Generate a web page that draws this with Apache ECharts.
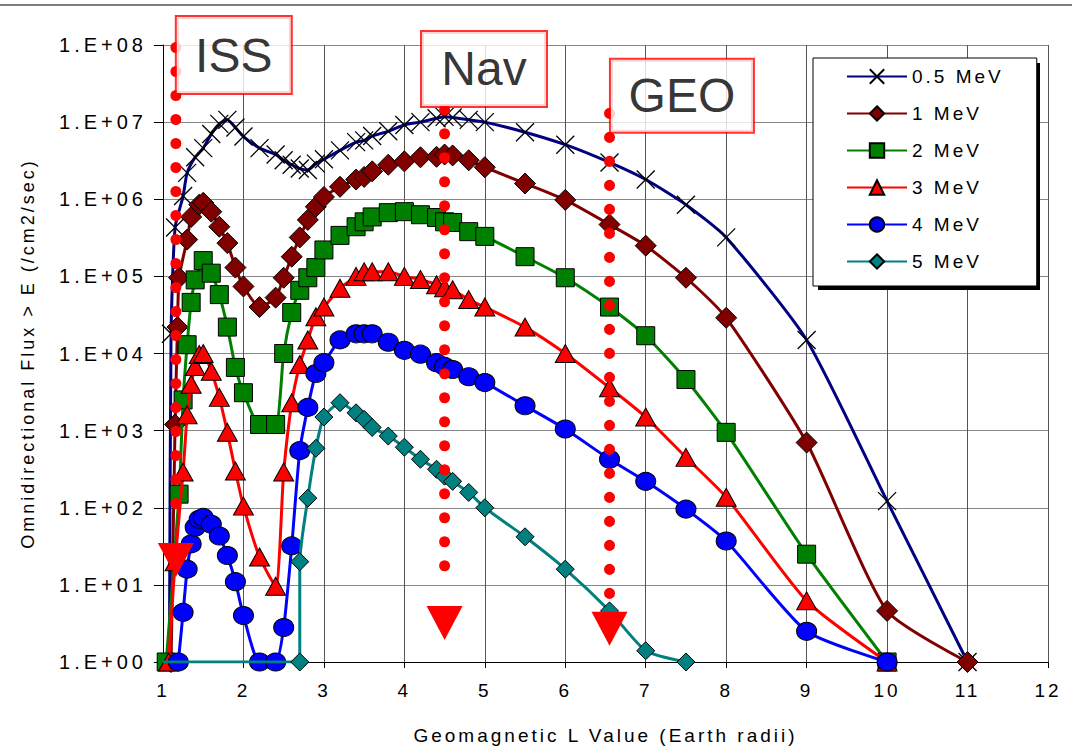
<!DOCTYPE html>
<html>
<head>
<meta charset="utf-8">
<title>Omnidirectional flux vs L</title>
<script src="https://cdn.jsdelivr.net/npm/echarts@6/dist/echarts.min.js"></script>
<style>
  html, body { margin: 0; padding: 0; background: #fff; }
  #chart { width: 1072px; height: 750px; }
  /* the original chart text is set with wide tracking, the big orbit labels are not */
  #chart text { letter-spacing: 3px; }
  #chart text[style*="20px"] { letter-spacing: 4px; }
  #chart text[style*="48px"] { letter-spacing: 0; }
</style>
</head>
<body>
<div id="chart"></div>
<script>
// energy thresholds (legend order)
var energyNames = ['0.5 MeV', '1 MeV', '2 MeV', '3 MeV', '4 MeV', '5 MeV'];

// [L value, flux > E]
var flux05 = [[1.08, 1], [1.1, 1.8e4], [1.15, 4.3e5], [1.25, 1.1e6], [1.3, 2.2e6], [1.4, 3.5e6], [1.5, 4.6e6],
  [1.6, 7e6], [1.7, 9.5e6], [1.8, 1.07e7], [1.9, 8.5e6], [2.0, 6.5e6], [2.2, 4.6e6], [2.4, 3.8e6], [2.5, 3.2e6],
  [2.6, 2.8e6], [2.7, 2.5e6], [2.8, 2.4e6], [2.9, 2.9e6], [3.0, 3.3e6], [3.2, 4.3e6], [3.4, 5.5e6], [3.5, 5.8e6],
  [3.6, 6.6e6], [3.8, 7.6e6], [4.0, 9.2e6], [4.2, 1.0e7], [4.4, 1.12e7], [4.5, 1.17e7], [4.6, 1.15e7], [4.8, 1.07e7],
  [5.0, 1.0e7], [5.5, 7.4e6], [6.0, 5.1e6], [6.55, 3e6], [7.0, 1.8e6], [7.5, 8.5e5], [8.0, 3.2e5], [9.0, 1.5e4],
  [10, 122], [11, 1]];
var flux1 = [[1.1, 1], [1.15, 1.2e3], [1.18, 2.2e4], [1.2, 9.6e4], [1.3, 3e5], [1.35, 5.9e5], [1.45, 8.5e5],
  [1.5, 9e5], [1.6, 6.9e5], [1.7, 4.4e5], [1.8, 2.7e5], [1.9, 1.3e5], [2.0, 7.4e4], [2.2, 4e4], [2.4, 5.3e4],
  [2.5, 9.6e4], [2.6, 1.8e5], [2.7, 3.2e5], [2.8, 5.4e5], [2.9, 8e5], [3.0, 1.07e6], [3.2, 1.45e6], [3.4, 1.8e6],
  [3.5, 1.95e6], [3.6, 2.3e6], [3.8, 2.8e6], [4.0, 3.1e6], [4.2, 3.5e6], [4.4, 3.55e6], [4.5, 3.8e6], [4.6, 3.7e6],
  [4.8, 3.2e6], [5.0, 2.6e6], [5.5, 1.6e6], [6.0, 9.8e5], [6.55, 4.7e5], [7.0, 2.5e5], [7.5, 9.6e4], [8.0, 2.9e4],
  [9.0, 700], [10, 4.6], [11, 1]];
var flux2 = [[1.04, 1], [1.2, 150], [1.25, 2.5e3], [1.3, 1.3e4], [1.35, 4.6e4], [1.4, 9e4], [1.5, 1.6e5],
  [1.6, 1.1e5], [1.7, 5.8e4], [1.8, 2.2e4], [1.9, 6.6e3], [2.0, 3.1e3], [2.2, 1.2e3], [2.4, 1.2e3], [2.5, 1e4],
  [2.6, 3.4e4], [2.7, 6.6e4], [2.8, 9.6e4], [2.9, 1.3e5], [3.0, 2.2e5], [3.2, 3.4e5], [3.4, 4.4e5], [3.5, 5.1e5],
  [3.6, 5.9e5], [3.8, 6.7e5], [4.0, 6.9e5], [4.2, 6.3e5], [4.4, 5.8e5], [4.5, 5.1e5], [4.6, 5e5], [4.8, 3.8e5],
  [5.0, 3.3e5], [5.5, 1.8e5], [6.0, 9.6e4], [6.55, 4e4], [7.0, 1.7e4], [7.5, 4.6e3], [8.0, 950], [9.0, 25], [10, 1]];
var flux3 = [[1.07, 1], [1.15, 20], [1.25, 290], [1.3, 1.6e3], [1.35, 4e3], [1.4, 6.8e3], [1.45, 9.7e3],
  [1.5, 1e4], [1.6, 5.9e3], [1.7, 2.7e3], [1.8, 950], [1.9, 300], [2.0, 105], [2.2, 23], [2.4, 9.6], [2.5, 290],
  [2.6, 2.3e3], [2.7, 7.2e3], [2.8, 1.5e4], [2.9, 3e4], [3.0, 4e4], [3.2, 7e4], [3.4, 1e5], [3.5, 1.15e5],
  [3.6, 1.15e5], [3.8, 1.15e5], [4.0, 1e5], [4.2, 9.1e4], [4.4, 7.8e4], [4.5, 7.1e4], [4.6, 6.7e4], [4.8, 5e4],
  [5.0, 4e4], [5.5, 2.2e4], [6.0, 1e4], [6.55, 3.6e3], [7.0, 1.5e3], [7.5, 450], [8.0, 137], [9.0, 6.2], [10, 1]];
var flux4 = [[1.19, 1], [1.25, 4.4], [1.3, 16], [1.35, 34], [1.4, 56], [1.45, 71], [1.5, 75], [1.6, 61], [1.7, 43],
  [1.8, 24], [1.9, 11], [2.0, 4], [2.2, 1], [2.4, 1], [2.5, 2.8], [2.6, 32], [2.7, 550], [2.8, 2e3], [2.9, 5.5e3],
  [3.0, 7.6e3], [3.2, 1.5e4], [3.4, 1.8e4], [3.5, 1.8e4], [3.6, 1.8e4], [3.8, 1.4e4], [4.0, 1.1e4], [4.2, 9.8e3],
  [4.4, 7.6e3], [4.5, 6.8e3], [4.6, 6.2e3], [4.8, 5e3], [5.0, 4.2e3], [5.5, 2.1e3], [6.0, 1.05e3], [6.55, 425],
  [7.0, 220], [7.5, 96], [8.0, 37], [9.0, 2.5], [10, 1]];
var flux5 = [[1.0, 1], [2.7, 1], [2.7, 20], [2.8, 133], [2.9, 590], [3.0, 1.5e3], [3.2, 2.3e3], [3.4, 1.7e3],
  [3.5, 1.4e3], [3.6, 1.1e3], [3.8, 850], [4.0, 610], [4.2, 425], [4.4, 315], [4.5, 257], [4.6, 220], [4.8, 158],
  [5.0, 100], [5.5, 42], [6.0, 16], [6.55, 4.6], [7.0, 1.4], [7.5, 1]];
var fluxSets = [flux05, flux1, flux2, flux3, flux4, flux5];

// orbit markers
var siteNames = ['ISS', 'Nav', 'GEO'];
var siteL = [1.16, 4.5, 6.55];
var dotTop = [9.3e7, 1.45e7, 1.3e7];
var dotBottom = [58, 8.8, 7.2];
var arrowFlux = [21, 3.2, 2.7];
var boxL = [1.88, 4.99, 7.45];
var boxFlux = [7.4e7, 4.9e7, 2.2e7];

var lineColors = ['#000080', '#800000', '#008000', '#ff0000', '#0000ff', '#008080'];
var symbols = ['path://M0,0L10,10M10,0L0,10', 'diamond', 'rect', 'triangle', 'circle', 'diamond'];
var symbolSizes = [18, 21, 18, [20, 18], [20, 18], 18];
var boxSizes = [[118, 80], [128, 78], [146, 76]];

var FONT = '"Liberation Sans", Arial, sans-serif';

var myChart = echarts.init(document.getElementById('chart'), null, { renderer: 'svg' });

var series = [];
for (var i = 0; i < fluxSets.length; i++) {
    var pts = fluxSets[i].map(function (p, j) {
        // the 5 MeV floor starts at the axis without a marker
        return (i == 5 && j == 0) ? { value: p, symbol: 'none' } : p;
    });
    series.push({
        name: energyNames[i],
        type: 'line',
        data: pts,
        smooth: 0.2,
        symbol: symbols[i],
        symbolSize: symbolSizes[i],
        lineStyle: { color: lineColors[i], width: 3 },
        itemStyle: { color: lineColors[i], borderColor: '#000', borderWidth: i == 0 ? 1.3 : 1 },
        z: 2 + i * 0.01
    });
}

// red dotted drop lines
for (var k = 0; k < siteNames.length; k++) {
    series.push({
        type: 'line',
        data: [[siteL[k], dotTop[k]], [siteL[k], dotBottom[k]]],
        symbol: 'none',
        silent: true,
        lineStyle: { color: '#ff0000', width: 11, type: [0.1, 23.9], cap: 'round' },
        z: 5
    });
}

// arrow heads
series.push({
    type: 'scatter',
    data: siteL.map(function (l, n) { return [l, arrowFlux[n]]; }),
    symbol: 'triangle',
    symbolRotate: 180,
    symbolSize: [36, 34],
    itemStyle: { color: '#ff0000', opacity: 1 },
    silent: true,
    z: 6
});

// label boxes
series.push({
    type: 'scatter',
    symbol: 'rect',
    symbolSize: 1,
    itemStyle: { color: 'rgba(0,0,0,0)' },
    silent: true,
    clip: false,
    z: 8,
    data: siteNames.map(function (s, n) {
        return {
            name: s,
            value: [boxL[n], boxFlux[n]],
            label: { width: boxSizes[n][0] - 4, height: boxSizes[n][1] - 4 }
        };
    }),
    label: {
        show: true,
        position: 'inside',
        formatter: '{b}',
        fontFamily: FONT,
        fontSize: 48,
        color: '#000',
        align: 'center',
        verticalAlign: 'middle',
        backgroundColor: '#fff',
        borderColor: '#ff0000',
        borderWidth: 2
    }
});

var option = {
    animation: false,
    backgroundColor: '#fff',
    textStyle: { fontFamily: FONT },
    graphic: [{
        type: 'line',
        shape: { x1: 0, y1: 5, x2: 1072, y2: 5 },
        style: { stroke: '#000', lineWidth: 1 },
        z: 0
    }, {
        // legend drop shadow
        type: 'rect',
        shape: { x: 818, y: 63, width: 222, height: 227 },
        style: { fill: '#000' },
        z: 3
    }],
    grid: { left: 163, right: 24, top: 45, bottom: 87 },
    legend: {
        data: energyNames,
        orient: 'vertical',
        left: 813,
        top: 58,
        itemWidth: 60,
        itemHeight: 18,
        itemGap: 18,
        padding: [9, 54, 15, 33],
        backgroundColor: '#fff',
        borderColor: '#000',
        borderWidth: 1,
        z: 4,
        textStyle: { fontFamily: FONT, fontSize: 19, color: '#000' }
    },
    xAxis: {
        type: 'value',
        min: 1,
        max: 12,
        interval: 1,
        name: 'Geomagnetic L Value (Earth radii)',
        nameLocation: 'middle',
        nameGap: 64,
        nameTextStyle: { fontFamily: FONT, fontSize: 19, color: '#000' },
        axisLine: { lineStyle: { color: '#000', width: 1 } },
        axisTick: { length: 6, lineStyle: { color: '#000' } },
        axisLabel: { fontFamily: FONT, fontSize: 19, color: '#000', margin: 19 },
        splitLine: { show: true, lineStyle: { color: '#555', width: 1 } }
    },
    yAxis: {
        type: 'log',
        logBase: 10,
        min: 1,
        max: 1e8,
        splitNumber: 8,
        name: 'Omnidirectional Flux > E (/cm2/sec)',
        nameLocation: 'middle',
        nameGap: 126,
        nameTextStyle: { fontFamily: FONT, fontSize: 18, color: '#000' },
        axisLine: { show: true, lineStyle: { color: '#000', width: 1 } },
        axisTick: { show: true, length: 9, lineStyle: { color: '#000' } },
        axisLabel: {
            fontFamily: FONT, fontSize: 20, color: '#000', margin: 16,
            formatter: function (v) {
                var e = Math.round(Math.log(v) / Math.LN10);
                return '1.E+' + (e < 10 ? '0' + e : e);
            }
        },
        splitLine: { show: true, lineStyle: { color: '#888', width: 1 } }
    },
    series: series
};

myChart.setOption(option);
</script>
</body>
</html>
